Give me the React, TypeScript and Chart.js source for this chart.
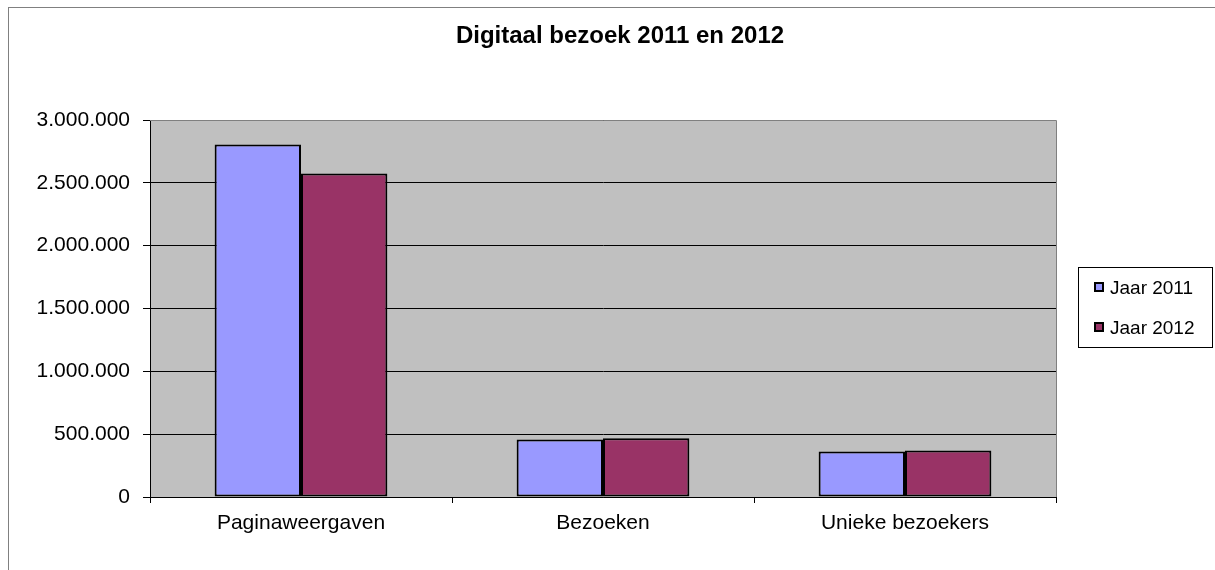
import React, { useEffect, useRef } from "react";
import { Chart, registerables } from "chart.js";

Chart.register(...registerables);

const chartTitle = "Digitaal bezoek 2011 en 2012";
const categories = ["Paginaweergaven", "Bezoeken", "Unieke bezoekers"];
const seriesNames = ["Jaar 2011", "Jaar 2012"];
const values2011 = [2805000, 457000, 362000];
const values2012 = [2575000, 467000, 370000];
const yTickValues = [0, 500000, 1000000, 1500000, 2000000, 2500000, 3000000];
const yTickLabels = ["0", "500.000", "1.000.000", "1.500.000", "2.000.000", "2.500.000", "3.000.000"];
const seriesColors = ["#9999FF", "#993366"];

const FONT = "'Liberation Sans', Arial, sans-serif";

const excelPlugin = {
  id: "excelLook",
  beforeDraw(chart: any) {
    const { ctx, chartArea } = chart;
    ctx.save();
    ctx.fillStyle = "#C0C0C0";
    ctx.fillRect(chartArea.left, chartArea.top, chartArea.right - chartArea.left, chartArea.bottom - chartArea.top);
    ctx.restore();
  },
  afterDraw(chart: any) {
    const { ctx, chartArea } = chart;
    ctx.save();
    // plot border (top + right)
    ctx.strokeStyle = "#808080";
    ctx.lineWidth = 1;
    ctx.beginPath();
    ctx.moveTo(chartArea.left, chartArea.top + 0.5);
    ctx.lineTo(chartArea.right + 0.5, chartArea.top + 0.5);
    ctx.lineTo(chartArea.right + 0.5, chartArea.bottom);
    ctx.stroke();

    // title
    ctx.fillStyle = "#000";
    ctx.font = `bold 24px ${FONT}`;
    ctx.textAlign = "center";
    ctx.textBaseline = "alphabetic";
    ctx.fillText(chartTitle, 620, 43);

    // legend
    const lx = 1078, ly = 267, lw = 134, lh = 80;
    ctx.strokeStyle = "#000";
    ctx.lineWidth = 1;
    ctx.strokeRect(lx + 0.5, ly + 0.5, lw, lh);
    ctx.font = `19px ${FONT}`;
    ctx.textAlign = "left";
    chart.data.datasets.forEach((ds: any, i: number) => {
      const sy = 282 + i * 40;
      ctx.fillStyle = ds.backgroundColor;
      ctx.fillRect(1094, sy, 10, 10);
      ctx.strokeStyle = "#000";
      ctx.lineWidth = 2;
      ctx.strokeRect(1095, sy + 1, 8, 8);
      ctx.fillStyle = "#000";
      ctx.fillText(ds.label, 1110, sy + 12);
    });
    ctx.restore();
  },
};

export default function App() {
  const canvasRef = useRef<HTMLCanvasElement | null>(null);

  useEffect(() => {
    if (!canvasRef.current) return;
    const chart = new Chart(canvasRef.current, {
      type: "bar",
      data: {
        labels: categories,
        datasets: [values2011, values2012].map((vals, i) => ({
          label: seriesNames[i],
          data: vals,
          backgroundColor: seriesColors[i],
          borderColor: "#000",
          borderWidth: 2,
          borderSkipped: false,
          categoryPercentage: 0.572,
          barPercentage: 1.0,
        })),
      },
      options: {
        responsive: false,
        animation: false,
        layout: { padding: { top: 120, right: 159, left: 0, bottom: 0 } },
        plugins: {
          legend: { display: false },
          title: { display: false },
          tooltip: { enabled: false },
        },
        scales: {
          x: {
            grid: { offset: true, drawOnChartArea: false, color: "#000", tickLength: 6, lineWidth: 1 },
            border: { color: "#000", width: 1 },
            ticks: { color: "#000", font: { family: FONT, size: 21 }, padding: 8 },
            afterFit: (s: any) => {
              s.height = 73;
            },
          },
          y: {
            min: 0,
            max: 3000000,
            grid: { color: "#000", tickLength: 7, lineWidth: 1 },
            border: { color: "#000", width: 1 },
            ticks: {
              stepSize: 500000,
              color: "#000",
              font: { family: FONT, size: 21 },
              padding: 13,
              callback: (value: any) => {
                const i = yTickValues.indexOf(Number(value));
                return i >= 0 ? yTickLabels[i] : "";
              },
            },
            afterFit: (s: any) => {
              s.width = 150;
            },
          },
        },
      },
      plugins: [excelPlugin],
    });
    return () => chart.destroy();
  }, []);

  return (
    <div style={{ position: "absolute", left: 0, top: 0, width: 1215, height: 570, overflow: "hidden", background: "#fff" }}>
      <div
        style={{
          position: "absolute",
          left: 8,
          top: 7,
          width: 1400,
          height: 800,
          borderLeft: "1px solid #808080",
          borderTop: "1px solid #808080",
        }}
      />
      <canvas ref={canvasRef} width={1215} height={570} style={{ position: "absolute", left: 0, top: 0 }} />
    </div>
  );
}
